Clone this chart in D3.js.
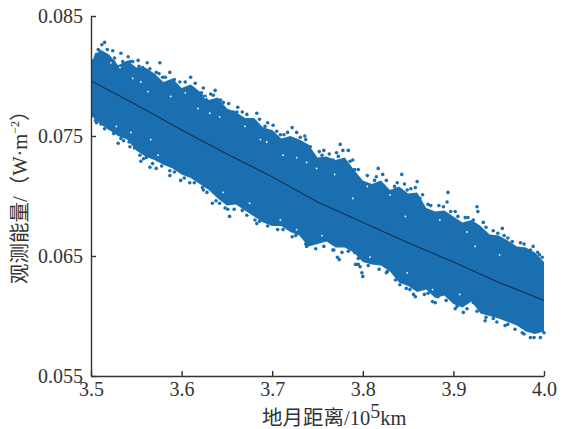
<!DOCTYPE html>
<html>
<head>
<meta charset="utf-8">
<script src="https://cdn.jsdelivr.net/npm/d3@7"></script>
<style>
body{margin:0;background:#fff;}
text{font-family:"Liberation Serif",serif;fill:#333;}
.cjk{font-family:"Liberation Serif","Noto Sans CJK SC",serif;}
</style>
</head>
<body>
<div id="chart"></div>
<script>
//values
const xTicks = [3.5, 3.6, 3.7, 3.8, 3.9, 4.0];
const yTicks = [0.055, 0.065, 0.075, 0.085];

//solid part of the cloud: distance, top and bottom of it
const coreDist = [3.50,3.51,3.52,3.53,3.54,3.55,3.56,3.57,3.58,3.59,3.60,3.61,3.62,3.63,3.64,3.65,3.66,3.67,3.68,3.69,3.70,3.71,3.72,3.73,3.74,3.75,
3.76,3.77,3.78,3.79,3.80,3.81,3.82,3.83,3.84,3.85,3.86,3.87,3.88,3.89,3.90,3.91,3.92,3.93,3.94,3.95,3.96,3.97,3.98,3.99,4.00];
const coreTop = [.0812,.0822,.0818,.0809,.0813,.0807,.0807,.0802,.0795,.0798,.0790,.0793,.0787,.0780,.0782,.0773,.0770,.0765,.0765,.0757,.0755,.0748,.0750,.0747,.0743,.0732,
.0733,.0730,.0732,.0722,.0713,.0710,.0713,.0705,.0708,.0702,.0703,.0690,.0687,.0688,.0683,.0678,.0680,.0675,.0668,.0667,.0663,.0658,.0657,.0653,.0645];
const coreBottom = [.0767,.0760,.0755,.0750,.0747,.0738,.0733,.0730,.0726,.0723,.0718,.0715,.0710,.0705,.0698,.0692,.0693,.0688,.0683,.0678,.0675,.0675,.0670,.0667,.0658,.0660,
.0662,.0657,.0657,.0653,.0645,.0643,.0642,.0637,.0628,.0625,.0620,.0622,.0615,.0617,.0610,.0607,.0612,.0602,.0600,.0598,.0595,.0592,.0587,.0585,.0587];

//single observations that stick out of the solid part
const upperPoints = [[3.515,.0828],[3.512,.0826],[3.508,.0822],[3.506,.0818],[3.513,.0819],[3.504,.0813],[3.524,.0821],[3.533,.0819],[3.526,.0815],[3.541,.0816],
[3.543,.0812],[3.552,.0813],[3.562,.0811],[3.557,.0807],[3.576,.0811],[3.572,.0803],[3.587,.0803],[3.579,.0799],[3.598,.0795],[3.610,.0799],
[3.615,.0794],[3.624,.0790],[3.607,.0790],[3.627,.0780],[3.594,.0791],[3.543,.0803],[3.555,.0797],[3.637,.0788],[3.635,.0784],[3.626,.0783],
[3.646,.0778],[3.662,.0774],[3.667,.0770],[3.661,.0770],[3.683,.0769],[3.681,.0762],[3.695,.0761],[3.701,.0759],[3.675,.0761],[3.722,.0757],
[3.717,.0753],[3.727,.0753],[3.736,.0750],[3.737,.0747],[3.717,.0744],[3.757,.0738],[3.755,.0734],[3.745,.0732],[3.709,.0751],[3.775,.0743],
[3.778,.0738],[3.784,.0738],[3.773,.0733],[3.778,.0728],[3.789,.0730],[3.767,.0730],[3.791,.0722],[3.817,.0723],[3.813,.0713],[3.822,.0718],
[3.843,.0718],[3.838,.0711],[3.860,.0712],[3.858,.0707],[3.849,.0705],[3.828,.0703],[3.863,.0698],[3.894,.0703],[3.893,.0695],[3.889,.0691],
[3.872,.0693],[3.926,.0691],[3.927,.0687],[3.916,.0682],[3.902,.0687],[3.933,.0678],[3.954,.0673],[3.949,.0669],[3.960,.0665],[3.974,.0661],
[3.993,.0653],[3.998,.0649],[3.988,.0658],
[3.505,.0816],[3.518,.0822],[3.525,.0812],[3.535,.0812],[3.546,.0812],[3.553,.0808],[3.565,.0806],[3.575,.0802],[3.582,.0799],[3.592,.0797],
[3.604,.0795],[3.612,.0790],[3.622,.0786],[3.632,.0785],[3.643,.0780],[3.652,.0777],[3.657,.0770],[3.672,.0768],[3.686,.0764],[3.692,.0758],
[3.705,.0754],[3.713,.0751],[3.731,.0749],[3.742,.0741],[3.752,.0737],[3.763,.0735],[3.771,.0736],[3.786,.0729],[3.795,.0722],[3.805,.0717],
[3.815,.0716],[3.826,.0713],[3.835,.0708],[3.846,.0710],[3.853,.0706],[3.866,.0701],[3.875,.0692],[3.884,.0692],[3.897,.0687],[3.905,.0683],
[3.913,.0682],[3.922,.0680],[3.936,.0674],[3.944,.0671],[3.956,.0667],[3.965,.0662],[3.978,.0660],[3.985,.0655],[3.995,.0651]];
const lowerPoints = [[3.503,.0769],[3.506,.0761],[3.511,.0760],[3.519,.0757],[3.530,.0744],[3.533,.0748],[3.542,.0745],[3.543,.0741],[3.554,.0734],[3.555,.0729],
[3.565,.0724],[3.572,.0723],[3.587,.0721],[3.587,.0717],[3.599,.0713],[3.609,.0711],[3.624,.0705],[3.574,.0730],[3.561,.0732],[3.623,.0707],
[3.634,.0694],[3.642,.0694],[3.653,.0683],[3.651,.0689],[3.667,.0688],[3.683,.0677],[3.681,.0680],[3.706,.0672],[3.722,.0666],[3.734,.0668],
[3.738,.0658],[3.767,.0655],[3.772,.0649],[3.774,.0647],[3.777,.0653],[3.791,.0653],[3.795,.0643],[3.792,.0643],[3.800,.0633],[3.799,.0636],
[3.797,.0641],[3.827,.0637],[3.841,.0626],[3.852,.0622],[3.858,.0616],[3.880,.0611],[3.872,.0619],[3.883,.0616],[3.911,.0603],[3.904,.0608],
[3.922,.0611],[3.935,.0596],[3.944,.0598],[3.960,.0593],[3.976,.0586],[3.985,.0582],[3.996,.0582],[4.000,.0586],
[3.505,.0763],[3.515,.0756],[3.525,.0752],[3.536,.0746],[3.548,.0740],[3.558,.0731],[3.568,.0727],[3.578,.0725],[3.592,.0720],[3.603,.0715],
[3.614,.0711],[3.628,.0703],[3.638,.0696],[3.648,.0690],[3.658,.0689],[3.672,.0684],[3.686,.0679],[3.695,.0675],[3.712,.0672],[3.726,.0667],
[3.737,.0660],[3.748,.0656],[3.757,.0658],[3.768,.0655],[3.784,.0654],[3.795,.0648],[3.806,.0642],[3.818,.0639],[3.826,.0636],[3.836,.0630],
[3.848,.0623],[3.856,.0618],[3.868,.0618],[3.877,.0612],[3.892,.0613],[3.902,.0606],[3.915,.0606],[3.926,.0604],[3.936,.0599],[3.948,.0595],
[3.957,.0592],[3.968,.0589],[3.978,.0585],[3.989,.0582]];

//small gaps between observations near the edges of the cloud
const gapPoints = [[3.522,.0811],[3.532,.0807],[3.546,.0798],[3.555,.0795],[3.563,.0787],[3.588,.0783],[3.604,.0786],[3.618,.0773],[3.626,.0782],[3.631,.0769],
[3.642,.0766],[3.670,.0758],[3.687,.0747],[3.694,.0745],[3.712,.0734],[3.738,.0728],[3.727,.0732],[3.749,.0723],[3.769,.0718],[3.789,.0698],
[3.805,.0708],[3.830,.0701],[3.847,.0683],[3.885,.0680],[3.924,.0658],[3.951,.0651],[3.915,.0670],[3.755,.0667],[3.709,.0680],[3.727,.0672],
[3.675,.0694],[3.646,.0703],[3.528,.0758],[3.574,.0734],[3.566,.0747],[3.544,.0753],[3.808,.0649],[3.849,.0636],[3.877,.0622],[3.907,.0618]];

//fitted curve
const fitDist = [3.50,3.55,3.60,3.65,3.70,3.75,3.80,3.85,3.90,3.95,4.00];
const fitValue = [.0796,.0776,.0755,.0735,.0716,.0695,.0678,.0661,.0645,.0628,.0613];

const width = 562, height = 429;
const blue = "#1a6fb1", ink = "#333";

const svg = d3.select("#chart").append("svg")
    .attr("width", width).attr("height", height);

const x = d3.scaleLinear().domain([3.5, 4.0]).range([91, 544]);
const y = d3.scaleLinear().domain([0.055, 0.085]).range([376, 16]);

//cloud: solid band first, then the loose dots on top
const band = d3.area()
    .x(function(d, i){return x(coreDist[i]);})
    .y0(function(d, i){return y(coreBottom[i]);})
    .y1(function(d, i){return y(coreTop[i]);});
svg.append("path").attr("d", band(coreDist)).attr("fill", blue);

svg.append("g").selectAll("circle")
    .data(upperPoints.concat(lowerPoints))
    .enter().append("circle")
    .attr("cx", function(d){return x(d[0]);})
    .attr("cy", function(d){return y(d[1]);})
    .attr("r", 1.8)
    .attr("fill", blue);

svg.append("g").selectAll("circle")
    .data(gapPoints)
    .enter().append("circle")
    .attr("cx", function(d){return x(d[0]);})
    .attr("cy", function(d){return y(d[1]);})
    .attr("r", 0.9)
    .attr("fill", "#fff");

//fit line
const fit = d3.line()
    .x(function(d, i){return x(fitDist[i]);})
    .y(function(d){return y(d);});
svg.append("path").attr("d", fit(fitValue))
    .attr("fill", "none").attr("stroke", "#10233a").attr("stroke-width", 1);

//axes, ticks point inwards
const xAxis = d3.axisBottom(x).tickValues(xTicks).tickFormat(d3.format(".1f")).tickSizeInner(-5).tickSizeOuter(0).tickPadding(6);
const yAxis = d3.axisLeft(y).tickValues(yTicks).tickFormat(d3.format(".3f")).tickSizeInner(-5).tickSizeOuter(0).tickPadding(8);

const gx = svg.append("g").attr("transform", "translate(0,376)").call(xAxis);
const gy = svg.append("g").attr("transform", "translate(91,0)").call(yAxis);
[gx, gy].forEach(function(g){
    g.selectAll("path,line").attr("stroke", ink).attr("stroke-width", 1.4);
    g.selectAll("text").attr("font-size", 20).attr("font-family", "Liberation Serif").attr("fill", ink);
});

//axis titles
const xTitle = svg.append("text").attr("class", "cjk")
    .attr("x", 262).attr("y", 425).attr("font-size", 20.5);
xTitle.append("tspan").text("地月距离/10");
xTitle.append("tspan").text("5").attr("font-size", 20).attr("dy", -7);
xTitle.append("tspan").text("km").attr("dy", 7);

const yTitle = svg.append("text").attr("class", "cjk")
    .attr("transform", "translate(27,284) rotate(-90)")
    .attr("font-size", 20.5);
yTitle.append("tspan").text("观测能量/（W·m");
yTitle.append("tspan").text("−2").attr("font-size", 12).attr("dy", -8);
yTitle.append("tspan").text("）").attr("dy", 8);
</script>
</body>
</html>
